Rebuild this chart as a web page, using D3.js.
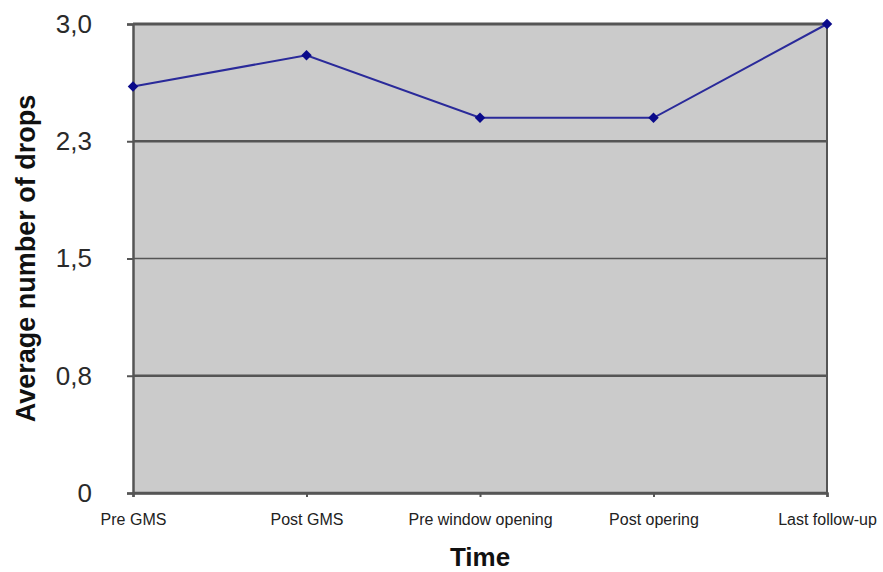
<!DOCTYPE html>
<html>
<head>
<meta charset="utf-8">
<script src="https://cdn.jsdelivr.net/npm/d3@7/dist/d3.min.js"></script>
<style>
  html, body { margin: 0; padding: 0; background: #ffffff; }
  svg { display: block; }
  text { font-family: "Liberation Sans", Arial, sans-serif; }
</style>
</head>
<body>
<svg id="chart" width="883" height="572"></svg>
<script>
// Measurement times and average drop counts
const categories = ["Pre GMS", "Post GMS", "Pre window opening", "Post opering", "Last follow-up"];
const averageDrops = [2.6, 2.8, 2.4, 2.4, 3.0];
const yTicks = [0, 0.75, 1.5, 2.25, 3.0];
const yTickLabels = ["0", "0,8", "1,5", "2,3", "3,0"];

const W = 883, H = 572;
const margin = { top: 24, right: 56, bottom: 79, left: 133 };
const innerW = W - margin.left - margin.right;
const innerH = H - margin.top - margin.bottom;

const svg = d3.select("#chart");
const g = svg.append("g").attr("transform", `translate(${margin.left},${margin.top})`);

const x = d3.scalePoint().domain(categories).range([0, innerW]);
const y = d3.scaleLinear().domain([0, 3]).range([innerH, 0]);

// Plot background
g.append("rect")
  .attr("x", 0).attr("y", 0)
  .attr("width", innerW).attr("height", innerH)
  .attr("fill", "#cbcbcb");

// Horizontal gridlines
const gridWidths = [2.5, 2.5, 1.5, 2.5, 3];
g.selectAll(".grid")
  .data(yTicks)
  .join("line")
  .attr("class", "grid")
  .attr("x1", 0).attr("x2", innerW)
  .attr("y1", d => y(d)).attr("y2", d => y(d))
  .attr("stroke", "#555")
  .attr("stroke-width", (d, i) => gridWidths[i]);

// Right border
g.append("line")
  .attr("x1", innerW).attr("x2", innerW)
  .attr("y1", 0).attr("y2", innerH)
  .attr("stroke", "#555").attr("stroke-width", 2);

// Y axis
const yAxis = d3.axisLeft(y)
  .tickValues(yTicks)
  .tickFormat((d, i) => yTickLabels[i])
  .tickSize(6)
  .tickPadding(35);
const yg = g.append("g").call(yAxis);
yg.select(".domain").attr("stroke", "#555").attr("stroke-width", 2.5);
yg.selectAll(".tick line").attr("stroke", "#555").attr("stroke-width", 2);
yg.selectAll(".tick text")
  .attr("font-size", 26)
  .attr("fill", "#2a2a2a")
  .attr("font-family", "'Liberation Sans', Arial, sans-serif");

// X axis
const xAxis = d3.axisBottom(x).tickSize(4).tickPadding(17);
const xg = g.append("g").attr("transform", `translate(0,${innerH})`).call(xAxis);
xg.select(".domain").attr("stroke", "#555").attr("stroke-width", 2.5);
xg.selectAll(".tick line").attr("stroke", "#555").attr("stroke-width", 2);
xg.selectAll(".tick text")
  .attr("font-size", 16)
  .attr("fill", "#222")
  .attr("font-family", "'Liberation Sans', Arial, sans-serif");

// Data line
const line = d3.line()
  .x((d, i) => x(categories[i]))
  .y(d => y(d));
g.append("path")
  .datum(averageDrops)
  .attr("fill", "none")
  .attr("stroke", "#2a2a9a")
  .attr("stroke-width", 2)
  .attr("d", line);

// Diamond markers
const diamond = d3.symbol().type(d3.symbolDiamond2).size(70);
g.selectAll(".marker")
  .data(averageDrops)
  .join("path")
  .attr("class", "marker")
  .attr("d", diamond)
  .attr("transform", (d, i) => `translate(${x(categories[i])},${y(d)})`)
  .attr("fill", "#0a0a8a");

// Axis titles
svg.append("text")
  .attr("x", margin.left + innerW / 2)
  .attr("y", 566)
  .attr("text-anchor", "middle")
  .attr("font-size", 26)
  .attr("font-weight", "bold")
  .attr("fill", "#111")
  .text("Time");

svg.append("text")
  .attr("transform", `translate(35,${margin.top + innerH / 2}) rotate(-90)`)
  .attr("text-anchor", "middle")
  .attr("font-size", 27)
  .attr("font-weight", "bold")
  .attr("fill", "#111")
  .text("Average number of drops");
</script>
</body>
</html>
